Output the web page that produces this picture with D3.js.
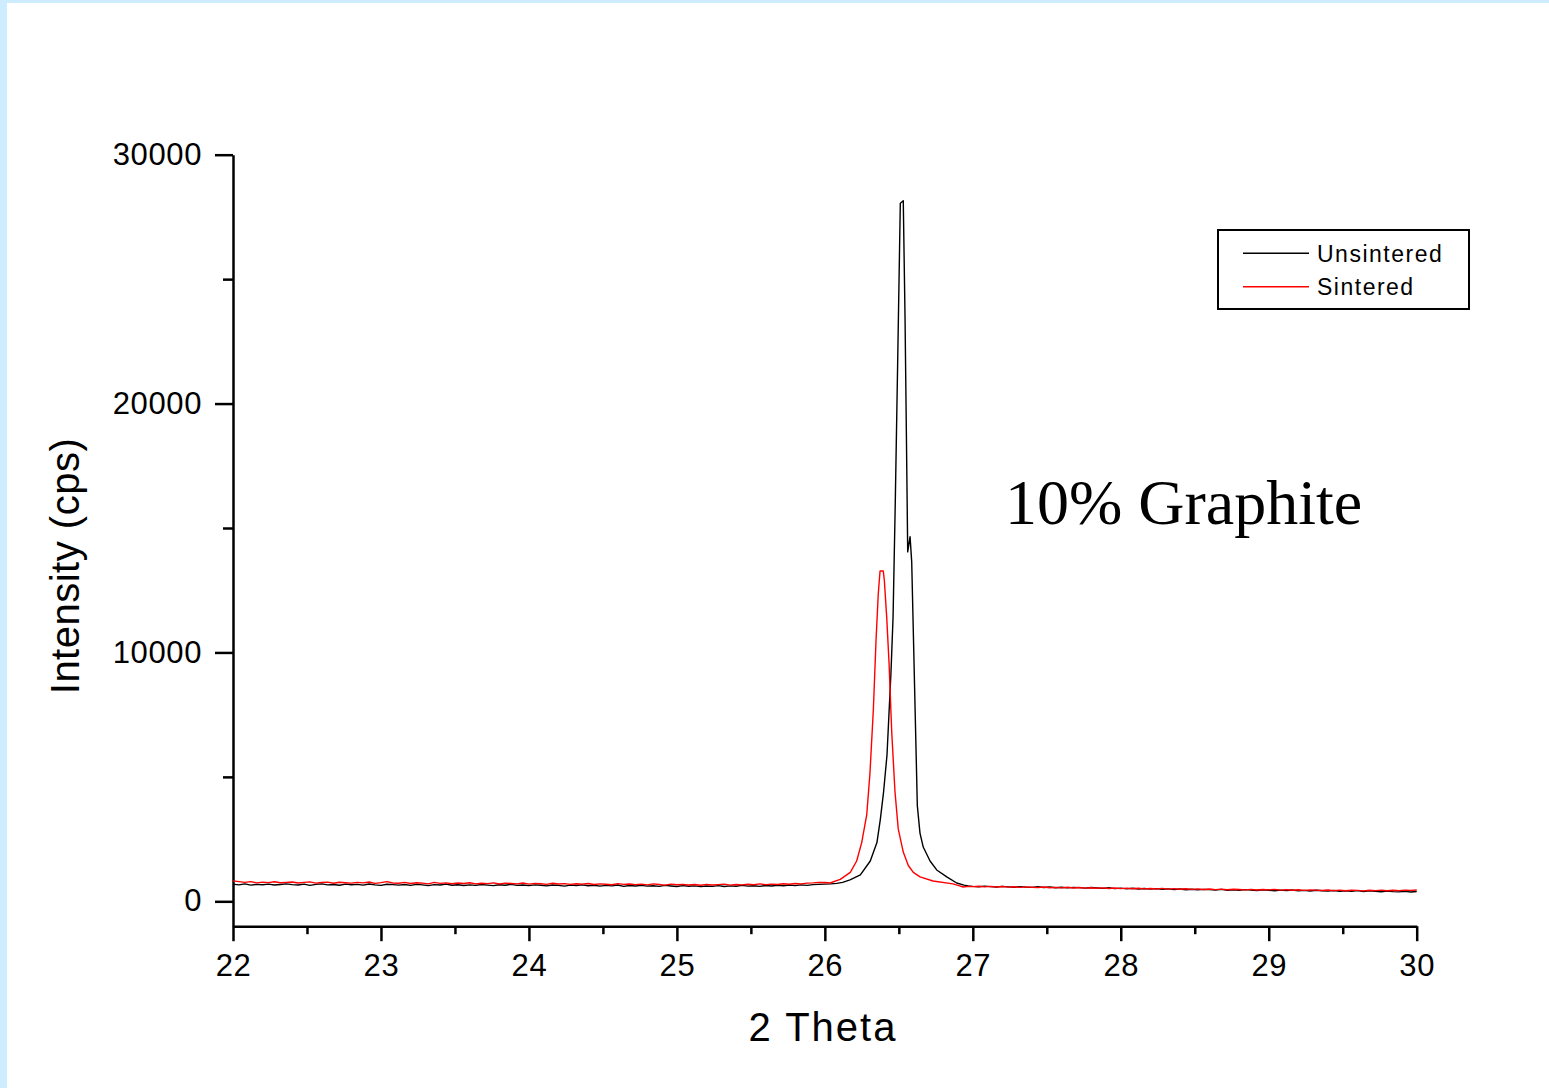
<!DOCTYPE html>
<html>
<head>
<meta charset="utf-8">
<script src="https://cdn.jsdelivr.net/npm/d3@7/dist/d3.min.js"></script>
<style>
  html, body { margin: 0; padding: 0; background: #ffffff; }
  svg { display: block; }
  text { font-family: "Liberation Sans", Arial, sans-serif; fill: #000; }
</style>
</head>
<body>
<script>
// XRD scan, graphite (002) reflection — 2θ in degrees, intensity in cps

// Regular background scan segments: start angle, step, and intensities
const scanStep = 0.04;
const lowStart = 22.0;   // 22.00 … 25.96
const highStart = 27.0;  // 27.00 … 30.00

const unsinteredLow = [
  690, 660, 700, 650, 680, 665, 690, 655, 675, 700,
  670, 655, 690, 640, 680, 700, 660, 675, 645, 690,
  665, 680, 650, 695, 660, 640, 685, 670, 650, 675,
  640, 680, 660, 630, 670, 655, 690, 645, 665, 635,
  660, 640, 675, 650, 630, 665, 645, 680, 640, 655,
  630, 660, 645, 620, 655, 640, 610, 650, 635, 660,
  625, 645, 610, 640, 620, 655, 600, 635, 615, 640,
  610, 625, 600, 640, 615, 595, 630, 605, 620, 590,
  615, 600, 630, 595, 620, 605, 640, 610, 625, 600,
  635, 615, 645, 625, 650, 630, 660, 640, 670, 680
];
const sinteredLow = [
  820, 790, 760, 790, 740, 770, 750, 785, 745, 760,
  775, 735, 760, 780, 730, 755, 770, 725, 765, 745,
  730, 760, 740, 775, 720, 750, 790, 735, 725, 760,
  715, 745, 730, 700, 760, 720, 740, 705, 735, 715,
  745, 700, 725, 710, 740, 695, 730, 715, 700, 735,
  690, 720, 705, 680, 725, 695, 710, 680, 705, 690,
  715, 675, 700, 685, 665, 710, 680, 695, 670, 690,
  660, 700, 675, 650, 690, 665, 680, 655, 675, 645,
  680, 655, 670, 690, 650, 675, 660, 685, 665, 700,
  670, 690, 675, 705, 685, 715, 700, 730, 740, 760
];
const unsinteredHigh = [
  600, 585, 610, 590, 575, 600, 580, 565, 590, 570,
  560, 585, 555, 575, 545, 565, 540, 560, 550, 530,
  555, 535, 520, 545, 510, 530, 500, 525, 495, 515,
  490, 510, 480, 500, 470, 495, 465, 485, 460, 480,
  470, 455, 480, 445, 465, 440, 470, 450, 435, 460,
  445, 425, 450, 430, 455, 420, 440, 415, 445, 425,
  410, 435, 405, 425, 400, 430, 395, 420, 405, 385,
  410, 390, 380, 400, 375, 395
];
const sinteredHigh = [
  590, 605, 580, 600, 575, 595, 570, 585, 560, 580,
  565, 550, 575, 545, 560, 540, 565, 535, 555, 530,
  545, 525, 540, 515, 535, 510, 530, 505, 525, 500,
  515, 495, 520, 490, 510, 485, 505, 480, 500, 475,
  495, 470, 490, 465, 485, 475, 460, 480, 455, 475,
  460, 480, 450, 470, 445, 465, 440, 460, 450, 435,
  455, 430, 450, 425, 445, 440, 420, 445, 430, 450,
  425, 445, 430, 450, 440, 455
];

// Peak region, finer sampling: [2θ, cps]
const unsinteredPeak = [
  [26.00, 690], [26.04, 700], [26.08, 720], [26.12, 760], [26.17, 860],
  [26.24, 1060], [26.307, 1620], [26.352, 2360], [26.375, 3290], [26.397, 4400],
  [26.420, 5880], [26.447, 9210], [26.461, 11420], [26.476, 16040], [26.492, 21600],
  [26.510, 28050], [26.530, 28150], [26.542, 23420], [26.551, 18800], [26.560, 14040],
  [26.576, 14650], [26.587, 13640], [26.625, 3840], [26.643, 2740], [26.665, 2180],
  [26.711, 1620], [26.756, 1260], [26.824, 980], [26.891, 735], [26.94, 650],
  [26.97, 620]
];
const sinteredPeak = [
  [26.00, 755], [26.035, 735], [26.104, 880], [26.172, 1160], [26.215, 1620],
  [26.249, 2360], [26.283, 3470], [26.305, 5160], [26.328, 7730], [26.346, 10500],
  [26.361, 12350], [26.373, 13270], [26.395, 13270], [26.402, 12900], [26.418, 11420],
  [26.434, 9570], [26.452, 6800], [26.474, 4400], [26.496, 2910], [26.530, 1980],
  [26.564, 1440], [26.598, 1160], [26.643, 980], [26.731, 815], [26.866, 700],
  [26.90, 640], [26.935, 575], [26.97, 600]
];

const seriesNames = ["Unsintered", "Sintered"];
const seriesColors = ["#000000", "#ff0000"];

const xTicks = [22, 23, 24, 25, 26, 27, 28, 29, 30];
const xMinorTicks = [22.5, 23.5, 24.5, 25.5, 26.5, 27.5, 28.5, 29.5];
const yTicks = [0, 10000, 20000, 30000];
const yMinorTicks = [5000, 15000, 25000];

const xTitle = "2 Theta";
const yTitle = "Intensity (cps)";
const annotation = "10% Graphite";

// Build point lists from the regular segments plus the peak samples
function segment(start, values) {
  return values.map((v, i) => [+(start + i * scanStep).toFixed(3), v]);
}
const series = [
  segment(lowStart, unsinteredLow).concat(unsinteredPeak, segment(highStart, unsinteredHigh)),
  segment(lowStart, sinteredLow).concat(sinteredPeak, segment(highStart, sinteredHigh))
];

const W = 1549, H = 1088;
const svg = d3.select("body").append("svg").attr("width", W).attr("height", H);

// Page frame
svg.append("rect").attr("x", 0).attr("y", 0).attr("width", W).attr("height", H).attr("fill", "#ffffff");
svg.append("rect").attr("x", 0).attr("y", 0).attr("width", W).attr("height", 3).attr("fill", "#cdecfd");
svg.append("rect").attr("x", 0).attr("y", 0).attr("width", 7).attr("height", H).attr("fill", "#cdecfd");

const x = d3.scaleLinear().domain([22, 30]).range([233, 1416.7]);
const y = d3.scaleLinear().domain([-1000, 30000]).range([926.2, 154.7]);

const axisColor = "#000";
const axisWidth = 2.5;

// X axis: major ticks with labels, then minor ticks
const xAxisG = svg.append("g").attr("transform", `translate(0,${y(-1000)})`)
  .call(d3.axisBottom(x).tickValues(xTicks).tickSize(15).tickSizeOuter(0).tickFormat(d3.format("d")));
svg.append("g").attr("transform", `translate(0,${y(-1000)})`)
  .call(d3.axisBottom(x).tickValues(xMinorTicks).tickSize(8).tickSizeOuter(0).tickFormat(""))
  .call(g => g.select(".domain").remove());

// Y axis
const yAxisG = svg.append("g").attr("transform", `translate(${x(22)},0)`)
  .call(d3.axisLeft(y).tickValues(yTicks).tickSize(18).tickSizeOuter(0).tickFormat(d3.format("d")));
svg.append("g").attr("transform", `translate(${x(22)},0)`)
  .call(d3.axisLeft(y).tickValues(yMinorTicks).tickSize(10).tickSizeOuter(0).tickFormat(""))
  .call(g => g.select(".domain").remove());

svg.selectAll(".domain, .tick line")
  .attr("stroke", axisColor).attr("stroke-width", axisWidth);

xAxisG.selectAll("text")
  .attr("y", 49.7).attr("dy", null)
  .style("font-size", "31px").style("letter-spacing", "0.6px")
  .attr("font-family", null).attr("fill", "#000");
yAxisG.selectAll("text")
  .attr("x", -31).attr("dy", "0.31em")
  .style("font-size", "31px").style("letter-spacing", "0.6px")
  .attr("font-family", null).attr("fill", "#000");
svg.selectAll(".tick text").attr("font-family", null);
svg.selectAll("g").attr("font-family", null).attr("font-size", null);

// Axis titles
svg.append("text")
  .attr("x", 823).attr("y", 1041)
  .attr("text-anchor", "middle")
  .style("font-size", "40px").style("letter-spacing", "2px")
  .text(xTitle);
svg.append("text")
  .attr("transform", "translate(79,566) rotate(-90)")
  .attr("text-anchor", "middle")
  .style("font-size", "40px").style("letter-spacing", "0.5px")
  .text(yTitle);

// Data traces
const line = d3.line().x(d => x(d[0])).y(d => y(d[1]));
series.forEach((pts, i) => {
  svg.append("path")
    .datum(pts)
    .attr("d", line)
    .attr("fill", "none")
    .attr("stroke", seriesColors[i])
    .attr("stroke-width", 1.4)
    .attr("stroke-linejoin", "round");
});

// Sample annotation
svg.append("text")
  .attr("x", 1005).attr("y", 524)
  .style("font-family", "'Liberation Serif', 'Times New Roman', serif")
  .style("font-size", "64px")
  .text(annotation);

// Legend
const legend = svg.append("g");
legend.append("rect")
  .attr("x", 1218).attr("y", 230).attr("width", 251).attr("height", 79)
  .attr("fill", "#fff").attr("stroke", "#000").attr("stroke-width", 2);
seriesNames.forEach((name, i) => {
  const ly = 253.3 + i * 33.4;
  legend.append("line")
    .attr("x1", 1243).attr("x2", 1309).attr("y1", ly).attr("y2", ly)
    .attr("stroke", seriesColors[i]).attr("stroke-width", 1.4);
  legend.append("text")
    .attr("x", 1317).attr("y", ly + 8.4)
    .style("font-size", "23px").style("letter-spacing", "1.5px")
    .text(name);
});
</script>
</body>
</html>
